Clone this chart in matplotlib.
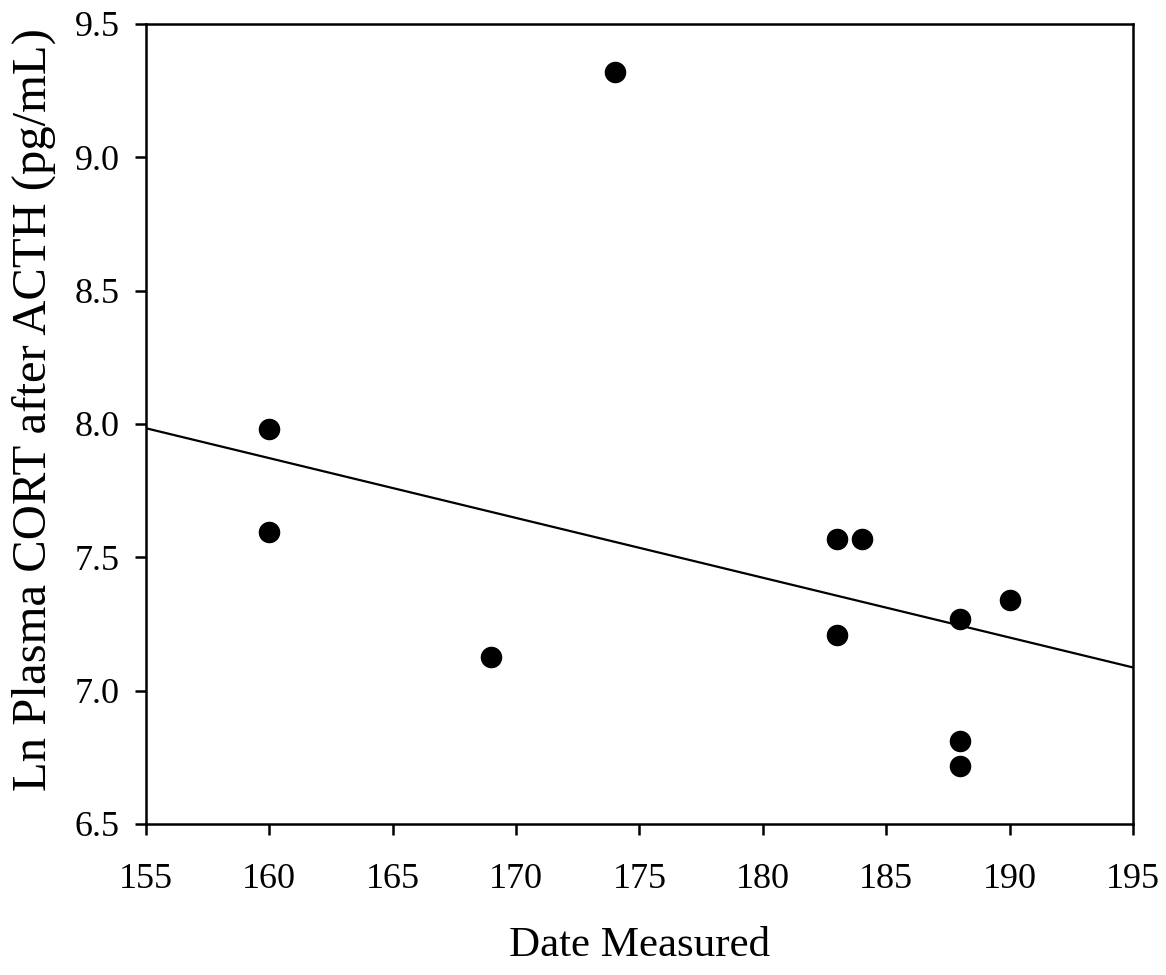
import matplotlib
matplotlib.use("Agg")
import matplotlib.pyplot as plt

# values
day = [160, 160, 169, 174, 183, 183, 184, 188, 188, 188, 190]
ln_cort = [7.98, 7.594, 7.125, 9.32, 7.568, 7.21, 7.568, 7.27, 6.81, 6.716, 7.34]

# regression line end points
fit_x = [155, 195]
fit_y = [7.984, 7.087]

x_ticks = [155, 160, 165, 170, 175, 180, 185, 190, 195]
y_ticks = [6.5, 7.0, 7.5, 8.0, 8.5, 9.0, 9.5]

plt.rcParams["font.family"] = ["Liberation Serif", "DejaVu Serif"]

fig = plt.figure(figsize=(11.66, 9.75), dpi=100)
ax = fig.add_axes([0.1252, 0.1549, 0.8465, 0.8205])

ax.plot(fit_x, fit_y, color="black", lw=1.6, zorder=2)
ax.plot(day, ln_cort, "o", color="black", ms=14.5, zorder=3)

ax.set_xlim(155, 195)
ax.set_ylim(6.5, 9.5)
ax.set_xticks(x_ticks)
ax.set_yticks(y_ticks)
ax.set_yticklabels([f"{v:.1f}" for v in y_ticks])

for s in ax.spines.values():
    s.set_linewidth(1.8)

ax.tick_params(axis="both", direction="out", length=8, width=1.8, labelsize=26)
ax.tick_params(axis="x", pad=20)
ax.tick_params(axis="y", pad=11)

ax.set_xlabel("Date Measured", fontsize=31, va="center")
ax.xaxis.set_label_coords(0.5, -0.152)
ax.set_ylabel("Ln Plasma CORT after ACTH (pg/mL)", fontsize=35, va="center")
ax.yaxis.set_label_coords(-0.114, 0.5175)

fig.savefig("out.png", dpi=100)
